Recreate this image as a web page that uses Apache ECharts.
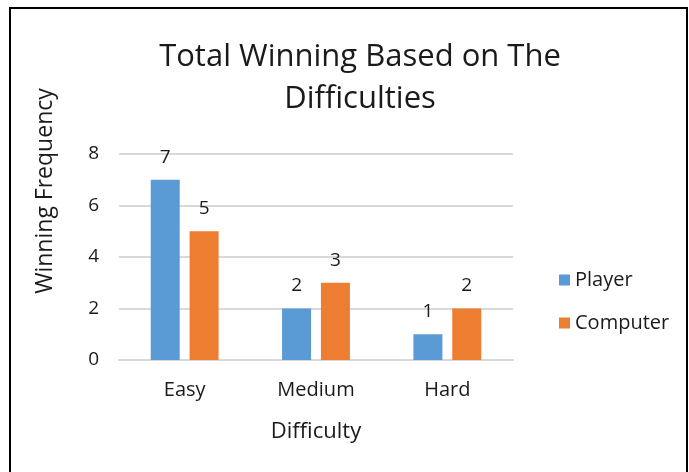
<!DOCTYPE html>
<html>
<head>
<meta charset="utf-8">
<script src="https://cdn.jsdelivr.net/npm/echarts@6/dist/echarts.min.js"></script>
<style>
  html, body { margin: 0; padding: 0; background: #fff; }
  #chart { width: 689px; height: 472px; }
</style>
</head>
<body>
<div id="chart"></div>
<script>
var difficulties = ['Easy', 'Medium', 'Hard'];
var playerWins = [7, 2, 1];
var computerWins = [5, 3, 2];
var yTicks = { min: 0, max: 8, interval: 2 };

var font = 'Open Sans';
var textColor = '#1a1a1a';

var myChart = echarts.init(document.getElementById('chart'));
myChart.setOption({
    animation: false,
    textStyle: { fontFamily: font },
    title: {
        text: 'Total Winning Based on The\nDifficulties',
        left: 355,
        top: 31,
        textAlign: 'center',
        textStyle: {
            fontFamily: font,
            fontSize: 31,
            fontWeight: 'normal',
            color: textColor,
            lineHeight: 42
        }
    },
    graphic: [{
        type: 'rect',
        shape: { x: 10, y: 8, width: 677, height: 480 },
        style: { fill: 'none', stroke: '#000', lineWidth: 2 }
    }],
    legend: {
        orient: 'vertical',
        left: 554,
        top: 265,
        itemWidth: 11,
        itemHeight: 11,
        itemGap: 23,
        icon: 'rect',
        textStyle: { fontFamily: font, fontSize: 20, color: textColor }
    },
    grid: { left: 119, right: 176, top: 154, bottom: 112 },
    xAxis: {
        type: 'category',
        data: difficulties,
        name: 'Difficulty',
        nameLocation: 'middle',
        nameGap: 61,
        nameTextStyle: { fontFamily: font, fontSize: 22, color: textColor },
        axisLine: { lineStyle: { color: '#d9d9d9', width: 2 } },
        axisTick: { show: false },
        axisLabel: { fontFamily: font, fontSize: 20, color: textColor, margin: 20 }
    },
    yAxis: {
        type: 'value',
        min: yTicks.min,
        max: yTicks.max,
        interval: yTicks.interval,
        name: 'Winning Frequency',
        nameLocation: 'middle',
        nameGap: 62,
        nameTextStyle: { fontFamily: font, fontSize: 23, color: textColor, padding: [0, 0, 0, 132] },
        axisLine: { show: false },
        axisTick: { show: false },
        splitLine: { lineStyle: { color: '#d9d9d9', width: 2 } },
        axisLabel: { fontFamily: font, fontSize: 19, color: textColor, margin: 20 }
    },
    series: [{
        name: 'Player',
        type: 'bar',
        data: playerWins,
        barWidth: 29,
        barGap: '34%',
        itemStyle: { color: '#5b9bd5' },
        label: { show: true, position: 'top', distance: 13, fontFamily: font, fontSize: 19, color: textColor }
    }, {
        name: 'Computer',
        type: 'bar',
        data: computerWins,
        barWidth: 29,
        barGap: '34%',
        itemStyle: { color: '#ed7d31' },
        label: { show: true, position: 'top', distance: 13, fontFamily: font, fontSize: 19, color: textColor }
    }]
});
</script>
</body>
</html>
